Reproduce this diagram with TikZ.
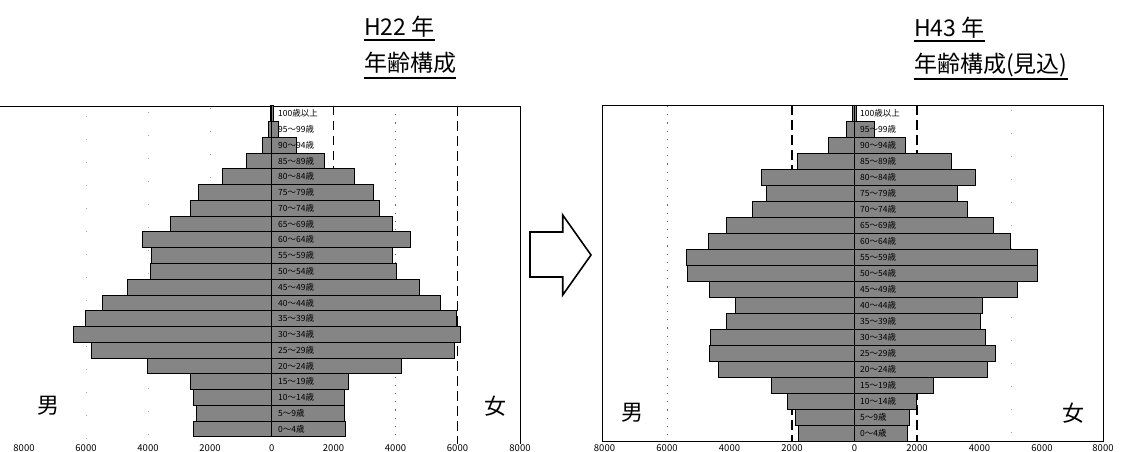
\documentclass[tikz,border=0pt]{standalone}
\usepackage{fontspec}
\setmainfont{Noto Sans CJK JP}
\tikzset{
  barstyle/.style={draw=black, line width=0.8pt, fill=black!48},
  agelab/.style={anchor=west, inner sep=0pt, font=\fontsize{8.5}{9}\selectfont},
  ticklab/.style={anchor=north, inner sep=0pt, font=\fontsize{9.5}{10}\selectfont},
  titletext/.style={anchor=base west, inner sep=0pt, font=\fontsize{23}{26}\selectfont},
  sexlab/.style={anchor=center, inner sep=0pt, font=\fontsize{22}{24}\selectfont},
  uline/.style={line width=1.4pt},
  frameline/.style={line width=1pt},
  dashgrid/.style={line width=0.9pt, dash pattern=on 9pt off 6pt},
  heavydash/.style={line width=1.3pt, dash pattern=on 10pt off 5pt},
  dotgrid/.style={line width=0.8pt, black!60, dash pattern=on 1.2pt off 7pt},
  faintdot/.style={line width=0.8pt, black!35, dash pattern=on 1pt off 22pt},
  axisline/.style={line width=1pt},
  axisthick/.style={line width=1.8pt},
  blockarrow/.style={draw=black, line width=1.6pt, fill=white, line join=miter}
}
\begin{document}
\begin{tikzpicture}[x=1pt,y=-1pt]
\useasboundingbox (0,0) rectangle (1125,451);

% ---------- titles ----------
\node[titletext] (t1a) at (364,35) {H22 年};
\node[titletext] (t1b) at (364,71) {年齢構成};
\draw[uline] ([yshift=-5pt]t1a.base west) -- ([yshift=-5pt]t1a.base east);
\draw[uline] ([yshift=-7pt]t1b.base west) -- ([yshift=-7pt]t1b.base east);

\node[titletext] (t2a) at (914,36) {H43 年};
\node[titletext] (t2b) at (914,72) {年齢構成(見込)};
\draw[uline] ([yshift=-5pt]t2a.base west) -- ([yshift=-5pt]t2a.base east);
\draw[uline] ([yshift=-7pt]t2b.base west) -- ([yshift=-7pt]t2b.base east);

% ---------- left chart (H22) ----------
\draw[faintdot] (210,108) -- (210,440);
\draw[faintdot] (148,112) -- (148,440);
\draw[faintdot] (86,116) -- (86,440);
\draw[dashgrid] (333.5,106) -- (333.5,437);
\draw[dotgrid] (395.5,106) -- (395.5,442);
\draw[heavydash] (457.5,106) -- (457.5,444);
\draw[frameline] (0,106) -- (520.5,106) -- (520.5,444);

\foreach \l/\r [count=\i from 0] in {1.5/1.5, 3/7, 9.5/25, 25/52.5, 49/82.3, 73.7/101.6, 81.7/107.3, 101.7/121, 129/139, 120.7/121, 121.7/124.3, 144.4/147.6, 169.4/168.3, 186/185, 198.4/188.3, 180/182.3, 124.4/129.3, 81/76.6, 78/72.3, 75.7/72.3, 78.7/73.3} {
  \draw[barstyle] (271.7-\l,105.7+15.77*\i) rectangle (271.7+\r,105.7+15.77*\i+15.77);
}
\draw[axisline] (271.7,105.7) -- (271.7,437);

\foreach \t [count=\i from 0] in {100歳以上, 95～99歳, 90～94歳, 85～89歳, 80～84歳, 75～79歳, 70～74歳, 65～69歳, 60～64歳, 55～59歳, 50～54歳, 45～49歳, 40～44歳, 35～39歳, 30～34歳, 25～29歳, 20～24歳, 15～19歳, 10～14歳, 5～9歳, 0～4歳} {
  \node[agelab] (la\i) at (278,105.7+15.77*\i+7.9) {\t};
}

\foreach \v/\x [count=\i] in {8000/24, 6000/86, 4000/148, 2000/210, 0/271.7, 2000/333.5, 4000/395.5, 6000/457.5, 8000/520} {
  \node[ticklab] (lt\i) at (\x,444.5) {\v};
}
\node[sexlab] (lm) at (48,406) {男};
\node[sexlab] (lf) at (495,406) {女};

% ---------- arrow ----------
\draw[blockarrow] (530,232) -- (562.7,232) -- (562.7,215) -- (591,255) -- (562.7,295) -- (562.7,277) -- (530,277) -- cycle;

% ---------- right chart (H43) ----------
\draw[dotgrid] (667,106) -- (667,440);
\draw[faintdot] (1011,110) -- (1011,440);
\draw[heavydash] (792,105) -- (792,441);
\draw[heavydash] (917,105) -- (917,441);

\foreach \l/\r [count=\i from 0] in {2/2, 8/20, 26.5/51, 57/96.6, 93.5/120.4, 87.8/102.7, 102/113, 128.6/138.4, 146.6/156, 167.7/182.7, 167/182.7, 145.6/163, 119/127.6, 128/126, 144/131, 145/140.8, 136/133, 82.7/79, 67/62, 59/55, 56/52.7} {
  \draw[barstyle] (854.5-\l,105+16*\i) rectangle (854.5+\r,105+16*\i+16);
}
\draw[axisthick] (854.5,105) -- (854.5,441);
\draw[frameline] (602,105) rectangle (1103.5,441);

\foreach \t [count=\i from 0] in {100歳以上, 95～99歳, 90～94歳, 85～89歳, 80～84歳, 75～79歳, 70～74歳, 65～69歳, 60～64歳, 55～59歳, 50～54歳, 45～49歳, 40～44歳, 35～39歳, 30～34歳, 25～29歳, 20～24歳, 15～19歳, 10～14歳, 5～9歳, 0～4歳} {
  \node[agelab] (ra\i) at (860,105+16*\i+8) {\t};
}

\foreach \v/\x [count=\i] in {8000/604.5, 6000/667, 4000/729.5, 2000/792, 0/854.5, 2000/917, 4000/979.5, 6000/1042, 8000/1103} {
  \node[ticklab] (rt\i) at (\x,444.5) {\v};
}
\node[sexlab] (rm) at (632,413) {男};
\node[sexlab] (rf) at (1073,413) {女};
\end{tikzpicture}
\end{document}
